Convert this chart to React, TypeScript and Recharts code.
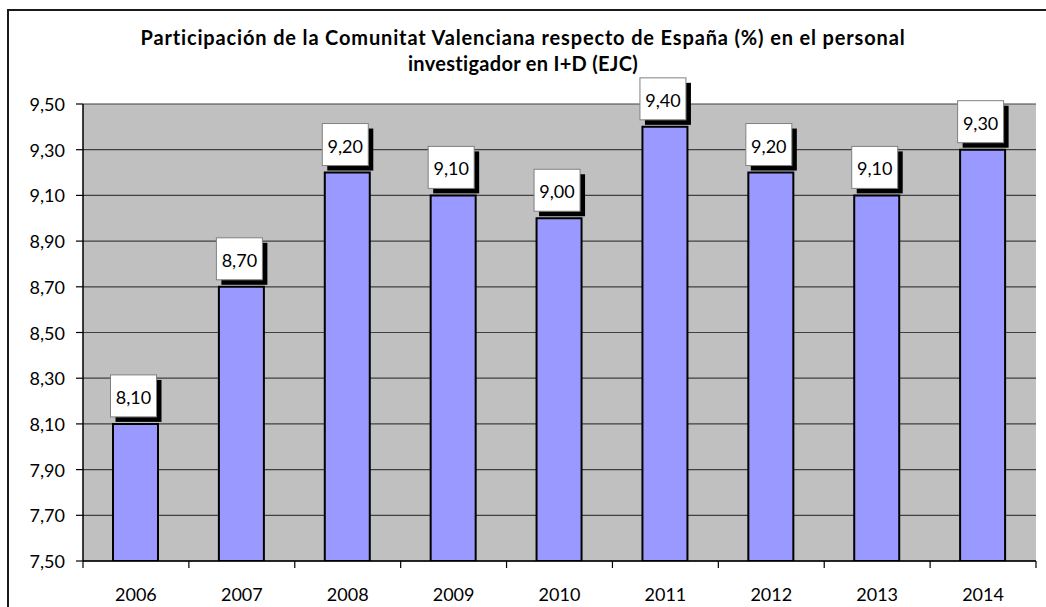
import React from "react";
import {
  BarChart,
  Bar,
  XAxis,
  YAxis,
  CartesianGrid,
  LabelList,
} from "recharts";

const years = ["2006", "2007", "2008", "2009", "2010", "2011", "2012", "2013", "2014"];
const shares = [8.1, 8.7, 9.2, 9.1, 9.0, 9.4, 9.2, 9.1, 9.3];
const yTicks = [7.5, 7.7, 7.9, 8.1, 8.3, 8.5, 8.7, 8.9, 9.1, 9.3, 9.5];
const titleLines = [
  "Participación de la Comunitat Valenciana respecto de España (%) en el personal",
  "investigador en I+D (EJC)",
];

const FONT = "Lato, 'Open Sans', sans-serif";

const fmt = (v: number) => v.toFixed(2).replace(".", ",");

function YearTick(props: any) {
  const { x, y, payload, index } = props;
  const half = payload?.offset ?? 52.9;
  const last = index === years.length - 1;
  return (
    <g>
      <line x1={x - half} y1={y} x2={x - half} y2={y + 7} stroke='#000' strokeWidth={1.2} />
      {last && (
        <line x1={x + half} y1={y} x2={x + half} y2={y + 7} stroke='#000' strokeWidth={1.2} />
      )}
      <text
        x={x}
        y={y + 33}
        textAnchor='middle'
        dominantBaseline='central'
        fontFamily={FONT}
        fontSize={18}
        fill='#000'
      >
        {payload.value}
      </text>
    </g>
  );
}

function ShareTick(props: any) {
  const { y, payload } = props;
  const axisX = 83;
  return (
    <g>
      <line x1={axisX - 7} y1={y} x2={axisX} y2={y} stroke='#000' strokeWidth={1.2} />
      <text
        x={axisX - 18}
        y={y}
        textAnchor='end'
        dominantBaseline='central'
        fontFamily={FONT}
        fontSize={18}
        fill='#000'
      >
        {fmt(Number(payload.value))}
      </text>
    </g>
  );
}

function ValueBox(props: any) {
  const { x, y, width, value } = props;
  const cx = Number(x) + Number(width) / 2 - 2;
  const w = 46;
  const h = 42;
  const left = cx - w / 2;
  const top = Number(y) - 7 - h;
  return (
    <g>
      <rect x={left + 5} y={top + 5} width={w} height={h} fill='#000' />
      <rect x={left} y={top} width={w} height={h} fill='#fff' stroke='#808080' strokeWidth={1} />
      <text
        x={cx}
        y={top + h / 2 + 1}
        textAnchor='middle'
        dominantBaseline='central'
        fontFamily={FONT}
        fontSize={18}
        fill='#000'
      >
        {fmt(Number(value))}
      </text>
    </g>
  );
}

export default function App() {
  const data = years.map((year, i) => ({ year, share: shares[i] }));

  return (
    <div
      style={{
        position: "absolute",
        left: 0,
        top: 0,
        width: 1046,
        height: 607,
        overflow: "hidden",
        background: "#fff",
      }}
    >
      <div
        style={{
          position: "absolute",
          left: 7,
          top: 9,
          width: 1100,
          height: 700,
          border: "2px solid #1a1a1a",
        }}
      />
      <div style={{ position: "absolute", left: 0, top: 0 }}>
        <BarChart
          width={1046}
          height={607}
          data={data}
          margin={{ top: 104, right: 10, bottom: 0, left: 8 }}
        >
          <CartesianGrid
            fill='#C0C0C0'
            fillOpacity={1}
            stroke='#404040'
            strokeWidth={1.2}
            vertical={false}
          />
          <XAxis
            dataKey='year'
            height={46}
            axisLine={{ stroke: "#000", strokeWidth: 1.5 }}
            tickLine={false}
            tickSize={0}
            tickMargin={0}
            tick={<YearTick />}
            interval={0}
          />
          <YAxis
            domain={[7.5, 9.5]}
            ticks={yTicks}
            width={75}
            tickLine={false}
            axisLine={{ stroke: "#000", strokeWidth: 1.5 }}
            tick={<ShareTick />}
            interval={0}
            allowDataOverflow
          />
          <YAxis
            yAxisId='frame'
            orientation='right'
            domain={[7.5, 9.5]}
            width={0}
            tick={false}
            tickLine={false}
            axisLine={{ stroke: "#808080", strokeWidth: 1.5 }}
          />
          <Bar
            dataKey='share'
            fill='#9999FF'
            stroke='#000'
            strokeWidth={2}
            barSize={45}
            isAnimationActive={false}
          >
            <LabelList dataKey='share' content={<ValueBox />} />
          </Bar>
        </BarChart>
      </div>
      <svg
        width={1046}
        height={100}
        style={{ position: "absolute", left: 0, top: 0, pointerEvents: "none" }}
      >
        {titleLines.map((line, i) => (
          <text
            key={i}
            x={523}
            y={45 + i * 26}
            textAnchor='middle'
            fontFamily={FONT}
            fontWeight='bold'
            fontSize={20}
            letterSpacing={i === 0 ? 0.85 : 0.3}
            fill='#000'
          >
            {line}
          </text>
        ))}
      </svg>
    </div>
  );
}
